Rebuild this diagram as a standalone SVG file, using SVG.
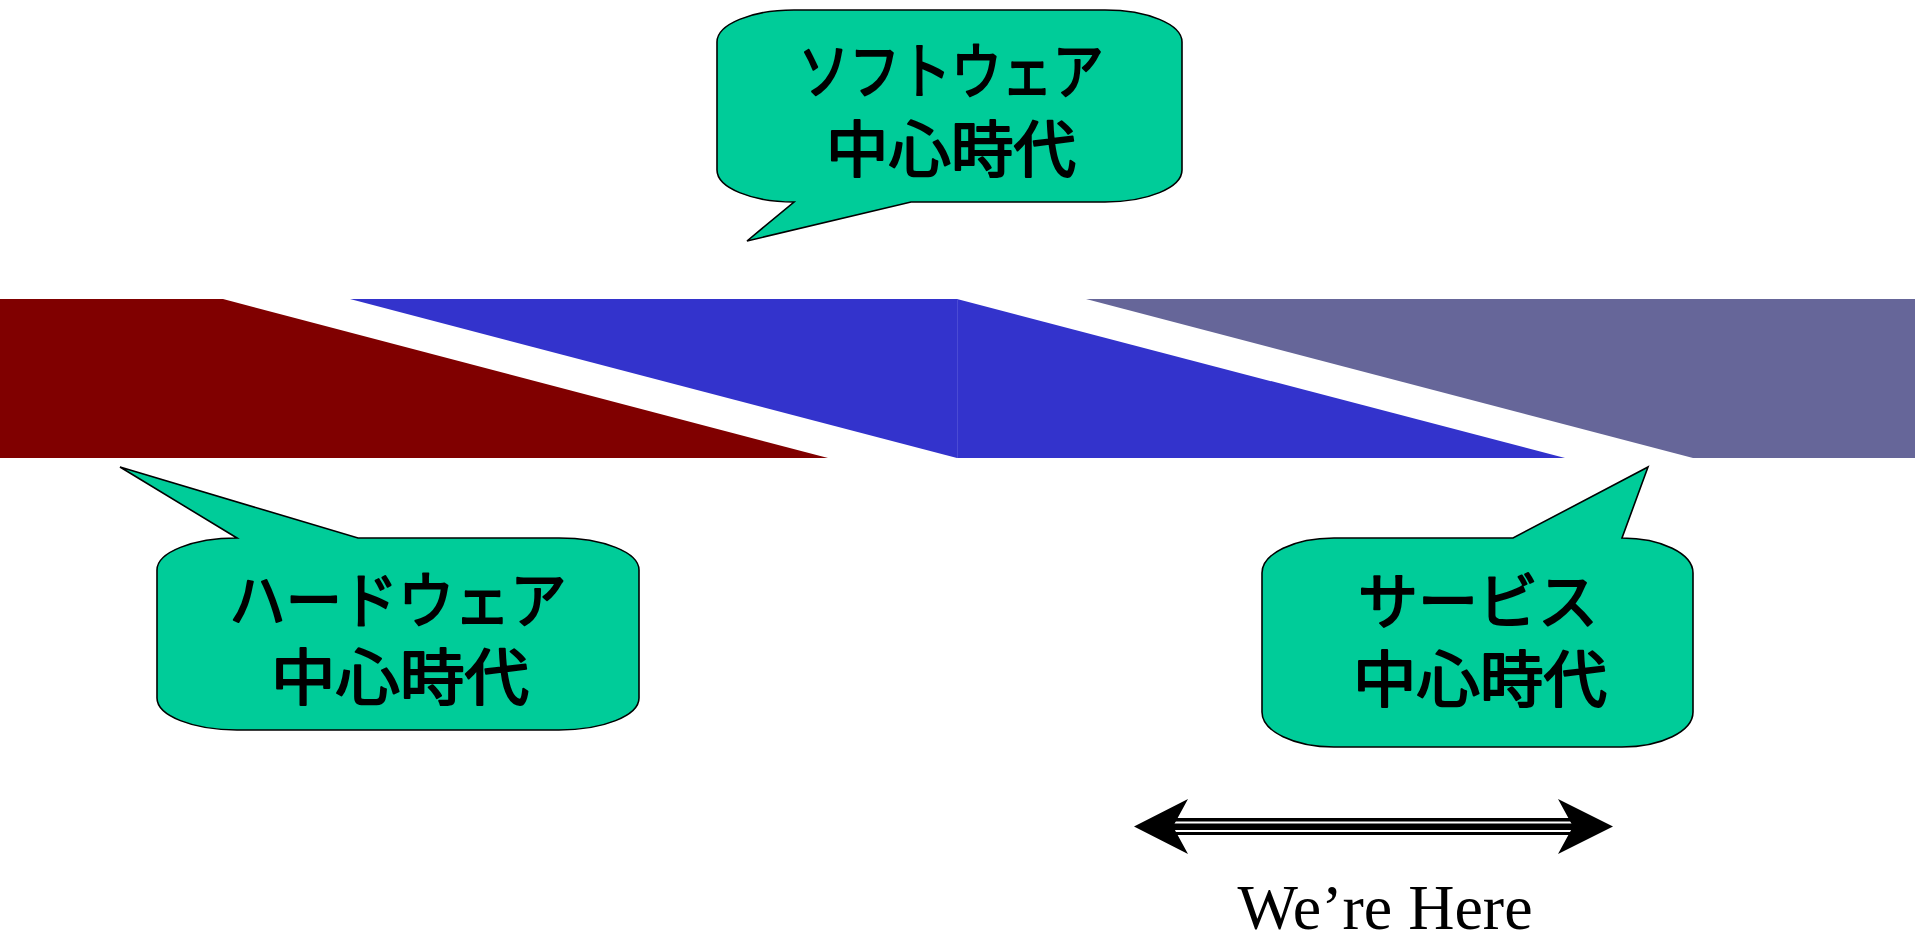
<svg xmlns="http://www.w3.org/2000/svg" width="1915" height="936" viewBox="0 0 1915 936">
  <style>
    .callout { fill: #00CC99; stroke: #000000; stroke-width: 1.6; stroke-linejoin: miter; }
    .jp { font-family: "Noto Sans CJK JP", "Noto Sans CJK SC", sans-serif; font-size: 61px; font-weight: 400; fill: #000000; stroke: #000000; stroke-width: 2; stroke-linejoin: round; text-anchor: middle; }
    .en { font-family: "Liberation Serif", "Times New Roman", serif; font-size: 64px; fill: #000000; text-anchor: middle; }
    .head { fill: #000000; }
  </style>
  <rect width="1915" height="936" fill="#FFFFFF"/>

  <g id="band-hardware">
    <polygon points="0,299 223,299 828,458 0,458" fill="#800000"/>
  </g>
  <g id="band-software">
    <polygon points="350,299 957,299 957,458" fill="#3333CC"/>
    <polygon points="957,299 957,458 1565,458" fill="#3333CC"/>
    <line x1="957.5" y1="299" x2="957.5" y2="458" stroke="#4B4BD4" stroke-width="1"/>
  </g>
  <g id="band-service">
    <polygon points="1086,299 1915,299 1915,458 1693,458" fill="#666699"/>
  </g>

  <g id="callout-software">
    <path class="callout" d="M 794,10 H 1105 A 77 32 0 0 1 1182,42 V 170 A 77 32 0 0 1 1105,202 H 911 L 747,241 L 794,202 A 77 32 0 0 1 717,170 V 42 A 77 32 0 0 1 794,10 Z"/>
    <text class="jp" x="951" y="94" textLength="305" lengthAdjust="spacingAndGlyphs">ソフトウェア</text>
    <text class="jp" x="951" y="172" textLength="250" lengthAdjust="spacingAndGlyphs">中心時代</text>
  </g>

  <g id="callout-hardware">
    <path class="callout" d="M 237,538 L 120,467 L 358,538 H 559 A 80 32 0 0 1 639,570 V 698 A 80 32 0 0 1 559,730 H 237 A 80 32 0 0 1 157,698 V 570 A 80 32 0 0 1 237,538 Z"/>
    <text class="jp" x="398" y="623" textLength="337" lengthAdjust="spacingAndGlyphs">ハードウェア</text>
    <text class="jp" x="400" y="700" textLength="258" lengthAdjust="spacingAndGlyphs">中心時代</text>
  </g>

  <g id="callout-service">
    <path class="callout" d="M 1334,538 H 1513 L 1648,467 L 1622,538 A 71 35 0 0 1 1693,573 V 712 A 71 35 0 0 1 1622,747 H 1334 A 72 35 0 0 1 1262,712 V 573 A 72 35 0 0 1 1334,538 Z"/>
    <text class="jp" x="1478" y="624" textLength="240" lengthAdjust="spacingAndGlyphs">サービス</text>
    <text class="jp" x="1480" y="702" textLength="254" lengthAdjust="spacingAndGlyphs">中心時代</text>
  </g>

  <g id="connectors">
    <g id="we-are-here-arrow">
      <rect x="1172" y="818" width="403" height="17" fill="#000000"/>
      <rect x="1172" y="821.5" width="403" height="2" fill="#FFFFFF"/>
      <rect x="1172" y="830" width="403" height="2" fill="#FFFFFF"/>
      <polygon class="head" points="1134,826.5 1188,799 1173,826.5 1188,854"/>
      <polygon class="head" points="1613,826.5 1558,799 1573,826.5 1558,854"/>
    </g>
  </g>

  <g id="label-here">
    <text class="en" x="1385" y="929">We’re Here</text>
  </g>
</svg>
